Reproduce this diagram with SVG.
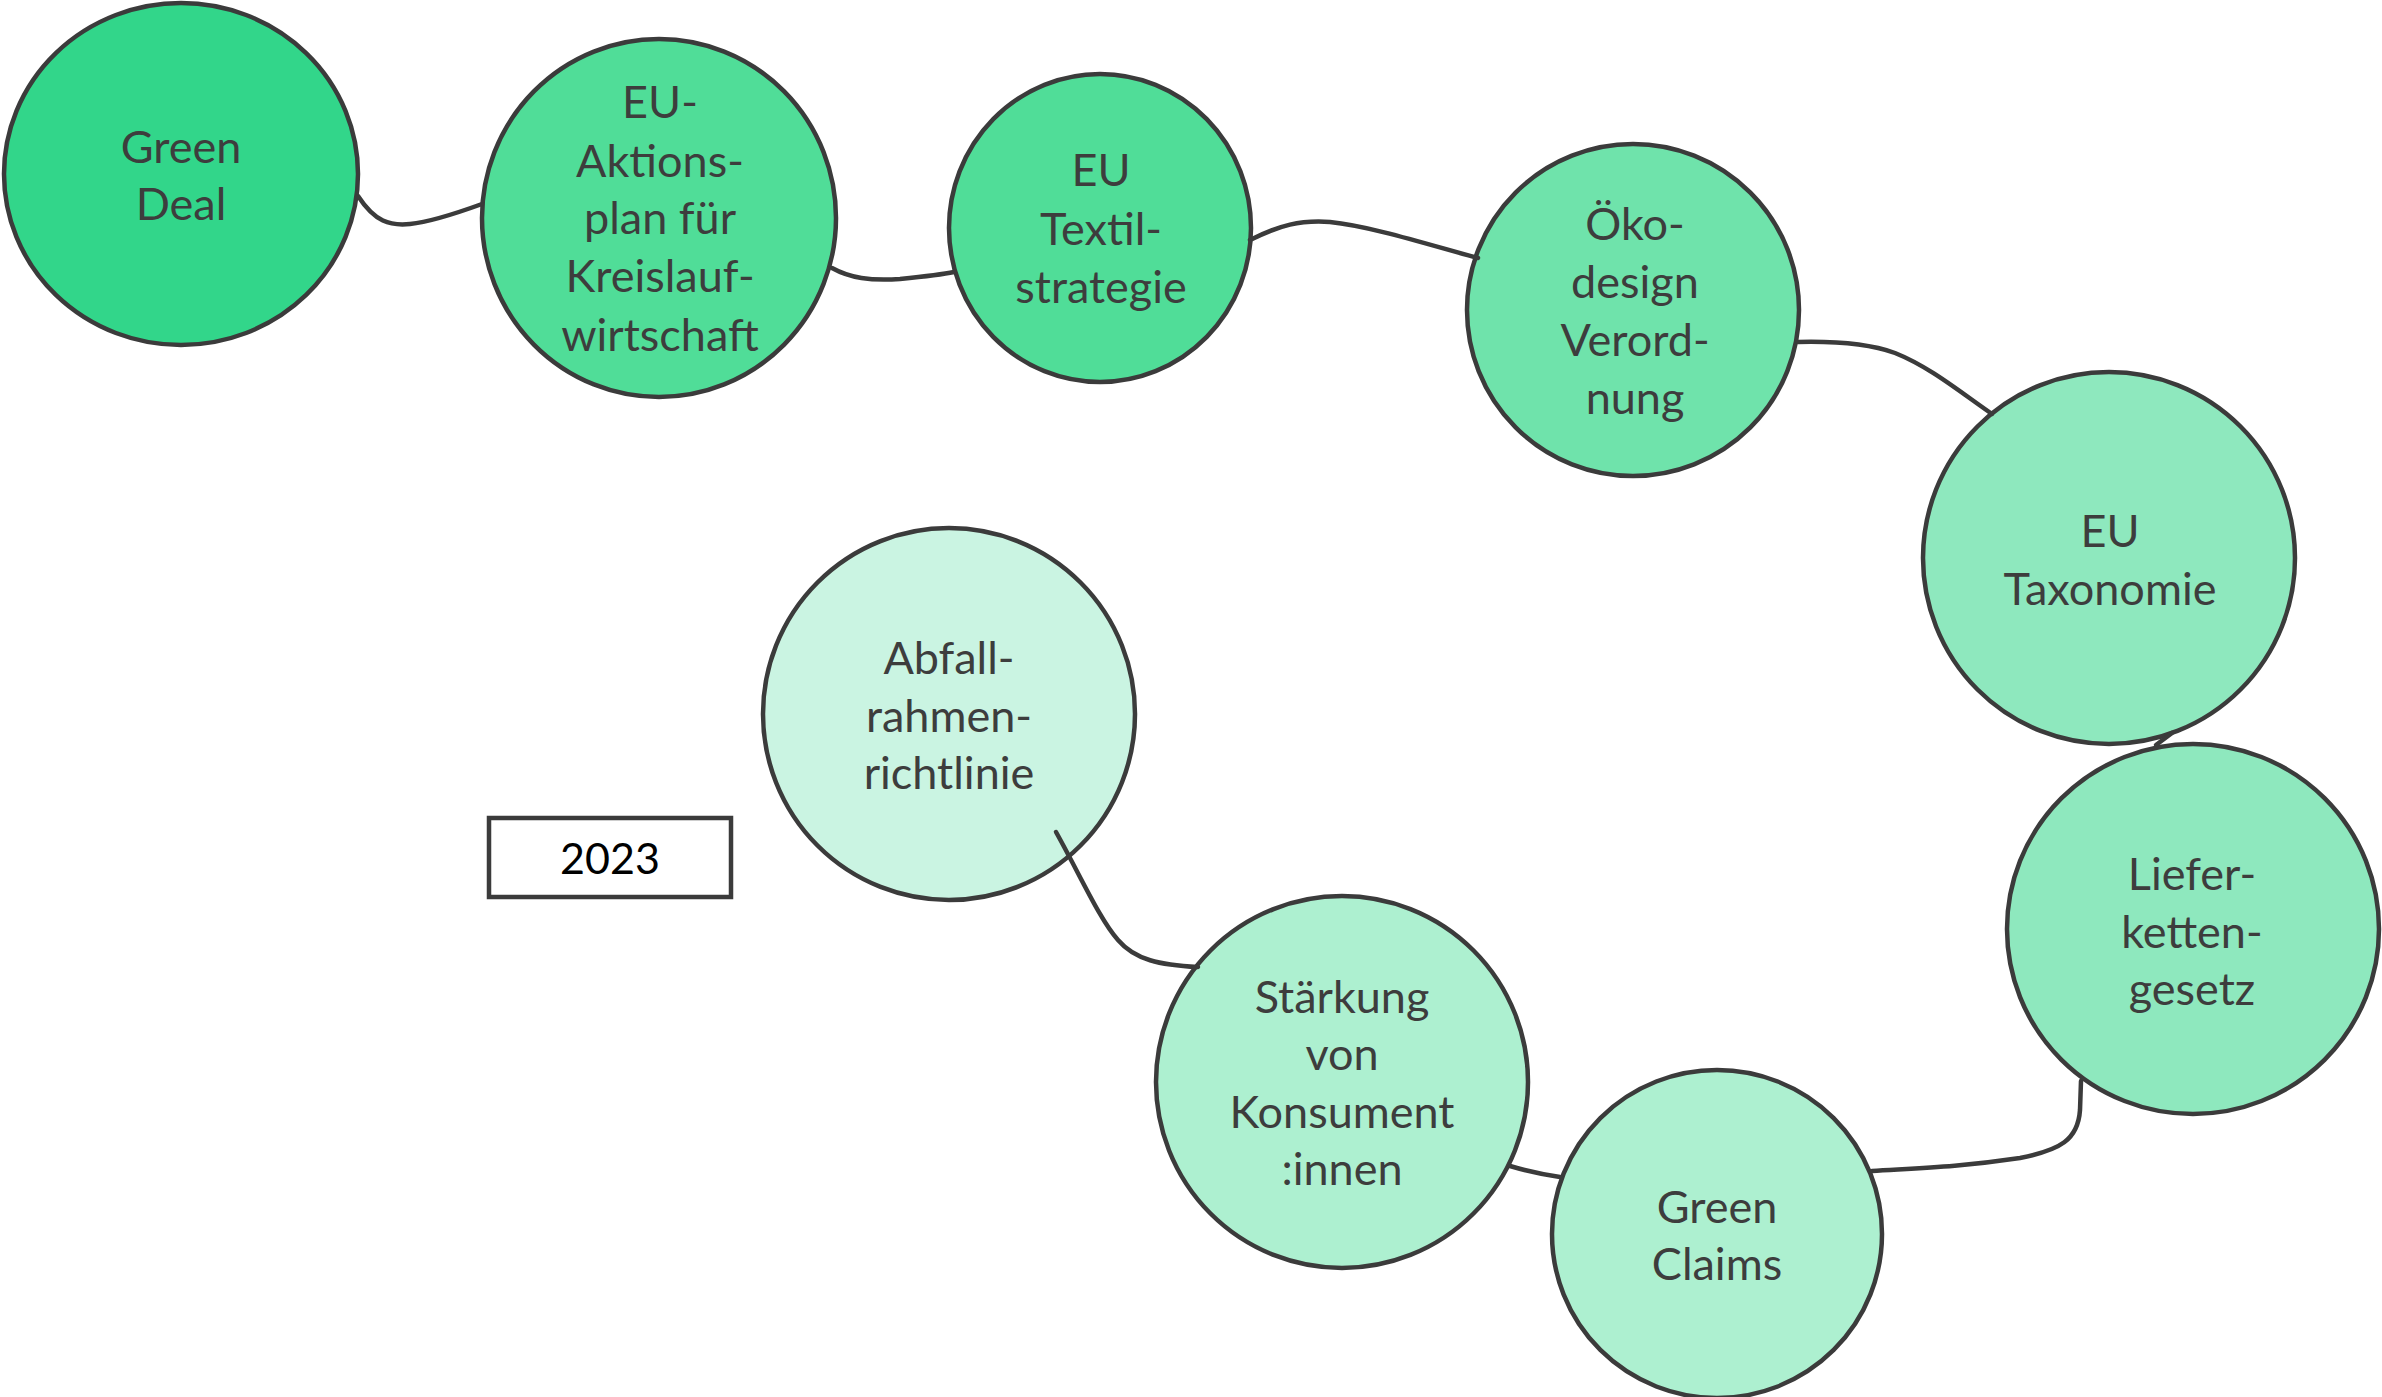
<svg xmlns="http://www.w3.org/2000/svg" width="2382" height="1397" viewBox="0 0 2382 1397">
<style>
.n{stroke:#3b3b3b;stroke-width:4.5}
.t{font-family:Lato,"Liberation Sans",sans-serif;font-size:45px;fill:#3d3d3d;text-anchor:middle}
.c{fill:none;stroke:#3b3b3b;stroke-width:4.5;stroke-linecap:round}
.c1{fill:#32d68a}.c2{fill:#50dd98}.c3{fill:#6fe3ab}.c4{fill:#8ee8be}.c5{fill:#adf0d0}.c6{fill:#caf4e2}
</style>
<rect width="2382" height="1397" fill="#fff"/>
<g id="green-deal">
<ellipse class="n c1" cx="181" cy="174" rx="177" ry="171"/>
<text class="t" x="181" y="163">Green</text>
<text class="t" x="181" y="220">Deal</text>
</g>
<g id="aktionsplan">
<ellipse class="n c2" cx="659" cy="218" rx="177" ry="179"/>
<text class="t" x="660" y="118">EU-</text>
<text class="t" x="660" y="177">Aktions-</text>
<text class="t" x="660" y="234">plan für</text>
<text class="t" x="660" y="292">Kreislauf-</text>
<text class="t" x="660" y="351">wirtschaft</text>
</g>
<g id="textilstrategie">
<ellipse class="n c2" cx="1100" cy="228" rx="151" ry="154"/>
<text class="t" x="1101" y="186">EU</text>
<text class="t" x="1101" y="245">Textil-</text>
<text class="t" x="1101" y="303">strategie</text>
</g>
<g id="oekodesign">
<ellipse class="n c3" cx="1633" cy="310" rx="166" ry="166"/>
<text class="t" x="1635" y="240">Öko-</text>
<text class="t" x="1635" y="298">design</text>
<text class="t" x="1635" y="356">Verord-</text>
<text class="t" x="1635" y="414">nung</text>
</g>
<g id="taxonomie">
<ellipse class="n c4" cx="2109" cy="558" rx="186" ry="186"/>
<text class="t" x="2110" y="547">EU</text>
<text class="t" x="2110" y="605">Taxonomie</text>
</g>
<g id="lieferkettengesetz">
<ellipse class="n c4" cx="2193" cy="929" rx="186" ry="185"/>
<text class="t" x="2192" y="890">Liefer-</text>
<text class="t" x="2192" y="948">ketten-</text>
<text class="t" x="2192" y="1005">gesetz</text>
</g>
<g id="green-claims">
<ellipse class="n c5" cx="1717" cy="1234" rx="165" ry="164"/>
<text class="t" x="1717" y="1223">Green</text>
<text class="t" x="1717" y="1280">Claims</text>
</g>
<g id="staerkung">
<ellipse class="n c5" cx="1342" cy="1082" rx="186" ry="186"/>
<text class="t" x="1342" y="1013">Stärkung</text>
<text class="t" x="1342" y="1070">von</text>
<text class="t" x="1342" y="1128">Konsument</text>
<text class="t" x="1342" y="1185">:innen</text>
</g>
<g id="abfallrahmenrichtlinie">
<ellipse class="n c6" cx="949" cy="714" rx="186" ry="186"/>
<text class="t" x="949" y="674">Abfall-</text>
<text class="t" x="949" y="732">rahmen-</text>
<text class="t" x="949" y="789">richtlinie</text>
</g>
<g id="year-2023">
<rect x="489" y="818" width="242" height="79" fill="#fff" stroke="#3b3b3b" stroke-width="4.5"/>
<text x="610" y="874" font-family="Lato,'Liberation Sans',sans-serif" font-size="43" fill="#000" text-anchor="middle">2023</text>
</g>
<g id="connectors">
<path class="c" d="M358,196 C375,222 390,226 410,224 C430,222 460,212 482,204"/>
<path class="c" d="M832,268 C850,278 870,281 900,279 C920,277 940,275 954,272"/>
<path class="c" d="M1250,240 C1280,225 1300,220 1330,222 C1370,226 1430,245 1478,258"/>
<path class="c" d="M1798,342 C1840,341 1870,344 1895,353 C1930,367 1960,392 1992,414"/>
<path class="c" d="M2172,733 L2156,745"/>
<path class="c" d="M2081,1081 L2080,1110 C2078,1140 2060,1150 2020,1158 C1960,1167 1920,1168 1872,1171"/>
<path class="c" d="M1560,1177 C1540,1174 1530,1172 1510,1166"/>
<path class="c" d="M1056,832 C1080,875 1100,920 1118,940 C1135,960 1160,965 1198,967"/>
</g>
</svg>
